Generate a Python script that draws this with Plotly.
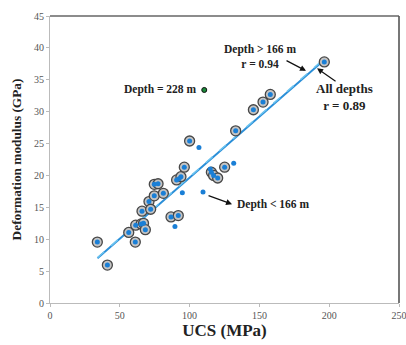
import plotly.graph_objects as go

# Depth > 166 m samples (ringed markers)
deep_ucs = [33.9, 41.1, 56.4, 61.4, 61.1, 65.9, 65.3, 67.0, 68.3, 70.9, 72.1, 74.7, 74.7, 77.4,
            81.2, 86.7, 91.9, 90.7, 93.8, 96.2, 100.0, 115.6, 117.2, 120.1, 125.1, 133.0,
            145.7, 152.6, 157.8, 196.5]
deep_mod = [9.55, 5.95, 11.06, 12.2, 9.55, 14.4, 12.4, 12.5, 11.5, 15.9, 14.7, 16.8, 18.6, 18.7,
            17.2, 13.5, 13.7, 19.3, 19.8, 21.3, 25.4, 20.5, 20.0, 19.6, 21.3, 27.0,
            30.3, 31.5, 32.7, 37.8]

# Depth < 166 m samples (plain dots)
shallow_ucs = [106.7, 131.6, 114.8, 94.8, 109.6, 89.5, 92.5]
shallow_mod = [24.4, 21.9, 21.0, 17.3, 17.4, 12.0, 19.5]

# Depth = 228 m sample
outlier_ucs = [110.5]
outlier_mod = [33.4]

# Fitted trend lines (end points)
fit_deep_x = [34.0, 197.0]
fit_deep_y = [7.1, 38.4]
fit_all_x = [34.0, 197.0]
fit_all_y = [7.0, 38.2]

serif = "Liberation Serif"
blue = "#1a7fd6"

fig = go.Figure()
fig.add_trace(go.Scatter(x=fit_all_x, y=fit_all_y, mode="lines",
                         line=dict(color="#2b8fd8", width=2.0), hoverinfo="skip"))
fig.add_trace(go.Scatter(x=fit_deep_x, y=fit_deep_y, mode="lines",
                         line=dict(color="#6cc4f0", width=1.5, dash="dash"), hoverinfo="skip"))
fig.add_trace(go.Scatter(x=deep_ucs, y=deep_mod, mode="markers",
                         marker=dict(size=10, color="#c4c4c4", line=dict(color="#474747", width=1.3))))
fig.add_trace(go.Scatter(x=deep_ucs, y=deep_mod, mode="markers",
                         marker=dict(size=5, color=blue, line=dict(width=0))))
fig.add_trace(go.Scatter(x=shallow_ucs, y=shallow_mod, mode="markers",
                         marker=dict(size=5, color=blue, line=dict(width=0))))
fig.add_trace(go.Scatter(x=outlier_ucs, y=outlier_mod, mode="markers",
                         marker=dict(size=5, color="#1b8a3a", line=dict(color="#111111", width=1))))

ann_font = dict(family=serif, size=11.5, color="#222222")
arrow = dict(showarrow=True, arrowhead=2, arrowsize=1, arrowwidth=1.2, arrowcolor="#111111",
             xref="x", yref="y", axref="pixel", ayref="pixel", text="")

fig.add_annotation(x=183.4, y=36.4, ax=-21, ay=-11, **arrow)
fig.add_annotation(x=150.4, y=38.7, xref="x", yref="y", showarrow=False,
                   text="<b>Depth > 166 m<br>r = 0.94</b>", font=ann_font, align="center")
fig.add_annotation(x=191.3, y=36.8, ax=20, ay=14, **arrow)
fig.add_annotation(x=210.6, y=32.3, xref="x", yref="y", showarrow=False,
                   text="<b>All depths<br>r = 0.89</b>",
                   font=dict(family=serif, size=13, color="#222222"), align="center")
fig.add_annotation(x=106, y=outlier_mod[0], xref="x", yref="y", showarrow=False, xanchor="right",
                   text="<b>Depth = 228 m</b>", font=ann_font)
fig.add_annotation(x=130.4, y=15.5, ax=-25, ay=-9, **arrow)
fig.add_annotation(x=132.5, y=15.5, xref="x", yref="y", showarrow=False, xanchor="left",
                   text="<b>Depth < 166 m</b>", font=ann_font)

# dark frame on the top and right edges
fig.add_shape(type="line", xref="paper", yref="paper", x0=0, x1=1, y0=1, y1=1,
              line=dict(color="#666666", width=1.3))
fig.add_shape(type="line", xref="paper", yref="paper", x0=1, x1=1, y0=0, y1=1,
              line=dict(color="#555555", width=1.6))

tick_font = dict(family=serif, size=10, color="#555555")
fig.update_xaxes(range=[0, 250], dtick=50, showgrid=False, zeroline=False, automargin=False,
                 showline=True, linecolor="#bbbbbb", linewidth=1, ticklabeloverflow="allow",
                 ticks="outside", ticklen=3, tickcolor="#bbbbbb", tickfont=tick_font,
                 title=dict(text="<b>UCS (MPa)</b>", font=dict(family=serif, size=17, color="#222222"),
                            standoff=3))
fig.update_yaxes(range=[0, 45], dtick=5, showgrid=False, zeroline=False, automargin=False,
                 showline=True, linecolor="#bbbbbb", linewidth=1,
                 ticks="outside", ticklen=3, tickcolor="#bbbbbb", tickfont=tick_font,
                 title=dict(text="<b>Deformation modulus (GPa)</b>",
                            font=dict(family=serif, size=13.3, color="#222222"), standoff=9))
fig.update_layout(width=406, height=345, showlegend=False,
                  margin=dict(l=50, r=7, t=16, b=42),
                  plot_bgcolor="white", paper_bgcolor="white")
fig.write_html("out.html")
